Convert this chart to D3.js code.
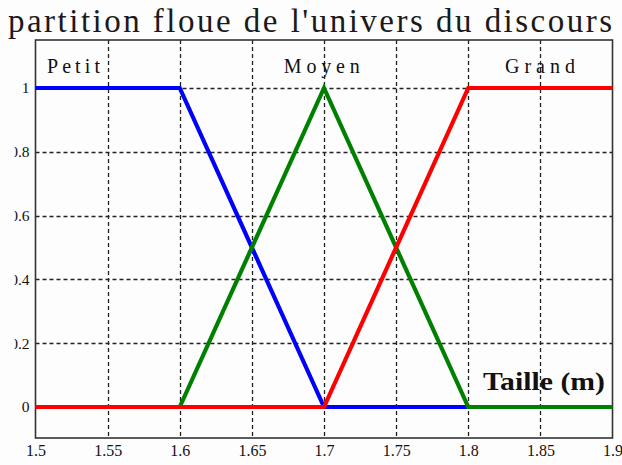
<!DOCTYPE html>
<html><head><meta charset="utf-8">
<script src="https://cdn.jsdelivr.net/npm/d3@7"></script>
<style>body{margin:0;background:#fff}svg{display:block}</style>
</head><body>
<script>
const title = "partition floue de l'univers du discours";
const xLabel = "Taille (m)";
const xTicks = [1.5, 1.55, 1.6, 1.65, 1.7, 1.75, 1.8, 1.85, 1.9];
const yTicks = [0, 0.2, 0.4, 0.6, 0.8, 1];
const petitX = [1.5, 1.6, 1.7, 1.8];
const petitY = [1, 1, 0, 0];
const moyenX = [1.6, 1.7, 1.8, 1.9];
const moyenY = [0, 1, 0, 0];
const grandX = [1.5, 1.7, 1.8, 1.9];
const grandY = [0, 0, 1, 1];
const seriesNames = ["Petit", "Moyen", "Grand"];
const seriesColors = ["#0000ff", "#008000", "#ff0000"];
const labelX = [1.5263, 1.6985, 1.8497];

(function () {
const W = 622, H = 465;
const svg = d3.select("body").append("svg").attr("width", W).attr("height", H);
svg.append("rect").attr("width", W).attr("height", H).attr("fill", "#fdfdfd");

const x = d3.scaleLinear().domain([1.5, 1.9]).range([35.5, 612.5]);
const y = d3.scaleLinear().domain([0, 1]).range([407, 88]);
const pTop = 40, pBottom = 438;
const serif = "'Liberation Serif','Times New Roman',serif";

// title
svg.append("text").attr("x", 8).attr("y", 32).attr("font-family", serif)
  .attr("font-size", 33).attr("textLength", 604).attr("lengthAdjust", "spacing")
  .attr("fill", "#1a1a1a").text(title);

// grid
const g = svg.append("g");
g.selectAll(".vg").data(xTicks.slice(1, -1)).join("line")
  .attr("x1", d => Math.round(x(d)) + 0.5).attr("x2", d => Math.round(x(d)) + 0.5)
  .attr("y1", pTop).attr("y2", pBottom)
  .attr("stroke", "#222").attr("stroke-width", 1.3).attr("stroke-dasharray", "4,3");
g.selectAll(".hg").data(yTicks).join("line")
  .attr("x1", x(1.5)).attr("x2", x(1.9))
  .attr("y1", d => Math.round(y(d)) + 0.5).attr("y2", d => Math.round(y(d)) + 0.5)
  .attr("stroke", "#222").attr("stroke-width", 1.3).attr("stroke-dasharray", "4,3");

// frame
svg.append("rect").attr("x", x(1.5)).attr("y", pTop).attr("width", x(1.9) - x(1.5))
  .attr("height", pBottom - pTop).attr("fill", "none").attr("stroke", "#333").attr("stroke-width", 1.6);

// x tick labels
const xAxis = d3.axisBottom(x).tickValues(xTicks).tickSize(0).tickPadding(7)
  .tickFormat(d => String(d));
const xa = svg.append("g").attr("transform", `translate(0,${pBottom})`).call(xAxis);
xa.select(".domain").remove();
xa.selectAll("text").attr("font-family", serif).attr("font-size", 16).attr("fill", "#111");

// y tick labels (clipped at left like the reference)
svg.append("clipPath").attr("id", "yc").append("rect")
  .attr("x", -21).attr("y", -500).attr("width", 60).attr("height", 1200);
const yAxis = d3.axisLeft(y).tickValues(yTicks).tickSize(0).tickPadding(6)
  .tickFormat(d => d === 0 || d === 1 ? String(d) : d3.format(".1f")(d));
const ya = svg.append("g").attr("transform", `translate(${x(1.5)},0)`).call(yAxis);
ya.select(".domain").remove();
ya.attr("clip-path", "url(#yc)");
ya.selectAll("text").attr("font-family", serif).attr("font-size", 15.5).attr("fill", "#111");

// series
const series = [
  petitX.map((v, i) => [v, petitY[i]]),
  moyenX.map((v, i) => [v, moyenY[i]]),
  grandX.map((v, i) => [v, grandY[i]])
];
const line = d3.line().x(d => x(d[0])).y(d => y(d[1]));
svg.selectAll(".s").data(series).join("path")
  .attr("d", line).attr("fill", "none")
  .attr("stroke", (d, i) => seriesColors[i]).attr("stroke-width", 4.2)
  .attr("stroke-linejoin", "miter");

// series labels
const lblLen = [53, 76, 70];
svg.selectAll(".lbl").data(seriesNames).join("text")
  .attr("x", (d, i) => x(labelX[i]) - lblLen[i] / 2).attr("y", 73)
  .attr("font-family", serif).attr("font-size", 20)
  .attr("textLength", (d, i) => lblLen[i]).attr("lengthAdjust", "spacing")
  .attr("fill", "#111").text(d => d);

// x label
svg.append("text").attr("x", 483).attr("y", 390)
  .attr("font-family", serif).attr("font-size", 26).attr("font-weight", "bold")
  .attr("textLength", 122).attr("lengthAdjust", "spacingAndGlyphs")
  .attr("fill", "#111").text(xLabel);
})();
</script>
</body></html>
